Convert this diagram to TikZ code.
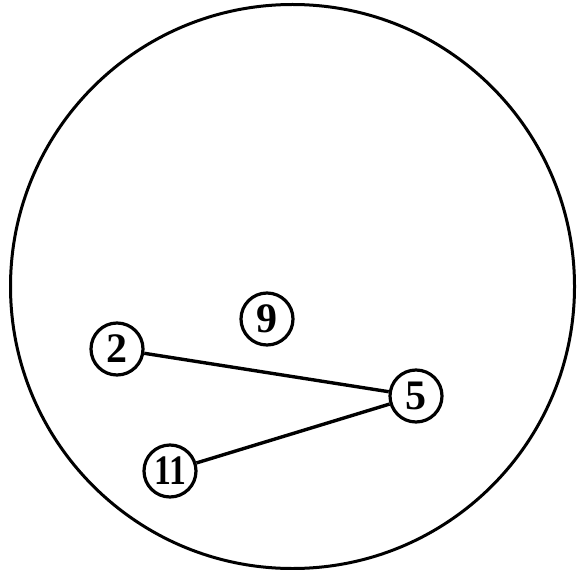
\documentclass[tikz,border=0pt]{standalone}
\usepackage{fontspec}
\setmainfont{Liberation Serif}
\begin{document}
\begin{tikzpicture}[x=1pt,y=-1pt,
  vert/.style={circle,draw,line width=3.2pt,minimum size=52pt,inner sep=0pt,
    font=\fontsize{42}{42}\selectfont\bfseries},
  conn/.style={line width=3.4pt}]
\useasboundingbox (0,0) rectangle (585,569);
\node[draw,circle,line width=3pt,minimum size=564pt,inner sep=0pt] (outer) at (292.5,286.5) {};
\node[vert] (n2) at (117,349) {2};
\node[vert] (n9) at (267,319) {9};
\node[vert] (n5) at (416,396) {5};
\node[vert] (n11) at (170,471) {\scalebox{0.8}[1]{11}};
\draw[conn] (n2) -- (n5);
\draw[conn] (n11) -- (n5);
\end{tikzpicture}
\end{document}
